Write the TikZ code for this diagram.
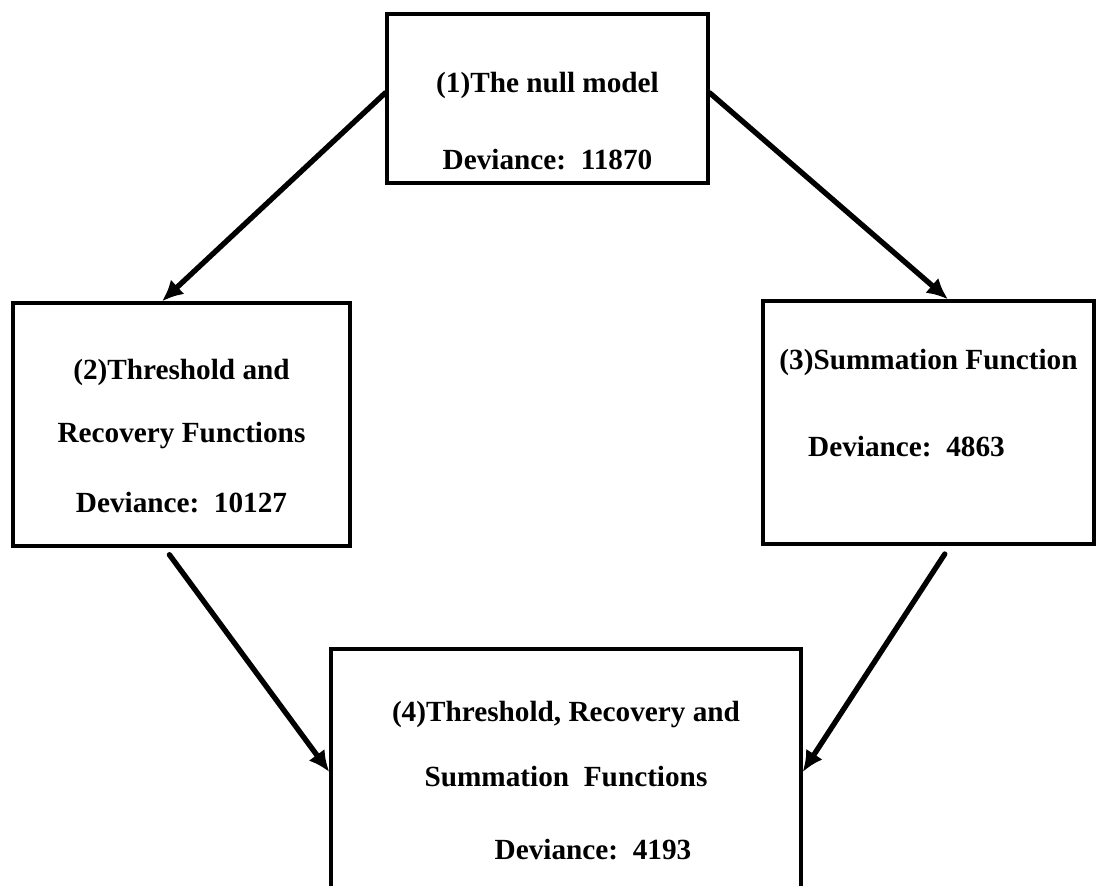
\documentclass[tikz,border=0pt]{standalone}
\usepackage{fontspec}
\setmainfont{Liberation Serif}
\usetikzlibrary{arrows.meta}
\begin{document}
\begin{tikzpicture}[x=0.025cm,y=-0.025cm,
	hop/.style={draw,line width=2.3pt,align=center,inner sep=0pt,
		font=\fontsize{20.8}{24}\selectfont\bfseries},
	muiten/.style={line width=3.8pt,line cap=round,-{Latex[length=15pt,width=14pt]}}]
	\useasboundingbox (0,0) rectangle (1097,886);
	%			Cac mo hinh
	\node[hop,minimum width=8.025cm,minimum height=4.225cm] (m1) at (547.5,98.5)
		{\rule{0pt}{47pt}(1)The null model\\[30.8pt]Deviance:~~11870};
	\node[hop,minimum width=8.425cm,minimum height=6.075cm] (m2) at (181.5,424.5)
		{\rule{0pt}{31.3pt}(2)Threshold and\\[20.8pt]Recovery Functions\\[25.8pt]Deviance:~~10127};
	\node[hop,minimum width=8.275cm,minimum height=6.075cm] (m3) at (928.5,422.5)
		{\rule{0pt}{14.2pt}(3)Summation Function\\[37.9pt]Deviance:~~4863\hspace*{1.1cm}\rule[-27.7pt]{0pt}{27.7pt}};
	\node[hop,minimum width=11.75cm,minimum height=6.15cm] (m4) at (566,772)
		{\rule{0pt}{27pt}(4)Threshold, Recovery and\\[22.2pt]Summation~~Functions\\[27.9pt]\hspace*{1.35cm}Deviance:~~4193};
	%			Mui ten
	\draw[muiten] (m1.178) -- (m2.99);
	\draw[muiten] (m1.2) -- (m3.81);
	\draw[muiten,shorten <=0.22cm] (m2.-98) -- (m4.west);
	\draw[muiten,shorten <=0.25cm] (m3.-80) -- (m4.east);
\end{tikzpicture}
\end{document}
